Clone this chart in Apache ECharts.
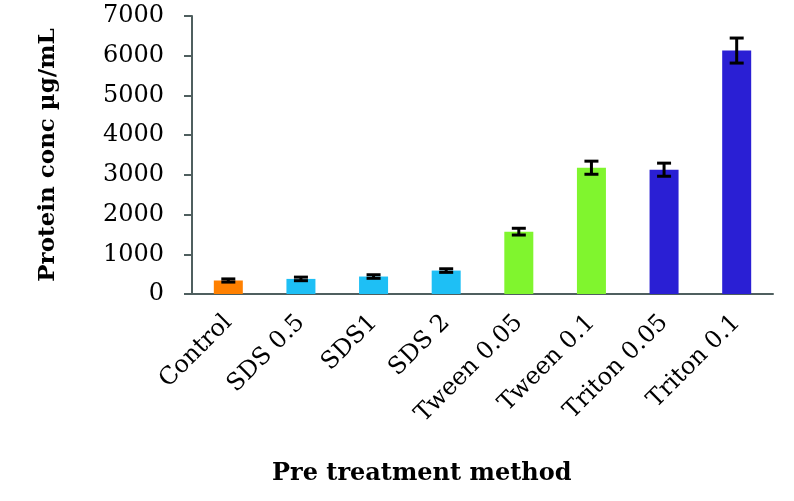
<!DOCTYPE html>
<html>
<head>
<meta charset="utf-8">
<script src="https://cdn.jsdelivr.net/npm/echarts@6/dist/echarts.min.js"></script>
<style>
  html, body { margin: 0; padding: 0; background: #fff; }
  #chart { width: 794px; height: 501px; }
</style>
</head>
<body>
<div id="chart"></div>
<script>
// 数据
const categories = ['Control', 'SDS 0.5', 'SDS1', 'SDS 2', 'Tween 0.05', 'Tween 0.1', 'Triton 0.05', 'Triton 0.1']
const values = [340, 380, 440, 590, 1570, 3180, 3130, 6130]
const errors = [40, 45, 45, 45, 85, 165, 165, 315]
const barColors = ['#ff8000', '#1ebff5', '#1ebff5', '#1ebff5', '#80f52e', '#80f52e', '#2a1fd4', '#2a1fd4']
const yTicks = [0, 1000, 2000, 3000, 4000, 5000, 6000, 7000]

const serif = 'DejaVu Serif'
const axisColor = '#4f5f5f'

const chart = echarts.init(document.getElementById('chart'))

chart.setOption({
  animation: false,
  grid: { left: 192, right: 21, top: 16, bottom: 207 },
  graphic: [{
    type: 'text',
    left: 272,
    top: 462,
    style: {
      text: 'Pre treatment method',
      font: 'bold 24px "DejaVu Serif"',
      fill: '#000'
    }
  }],
  xAxis: {
    type: 'category',
    data: categories,
    axisLine: { lineStyle: { color: axisColor, width: 2 } },
    axisTick: { alignWithLabel: false, length: 8, lineStyle: { color: axisColor, width: 2 } },
    axisLabel: {
      rotate: 45,
      margin: 25,
      color: '#000',
      fontFamily: serif,
      fontSize: 24
    }
  },
  yAxis: {
    type: 'value',
    min: yTicks[0],
    max: yTicks[yTicks.length - 1],
    interval: 1000,
    name: 'Protein conc µg/mL',
    nameLocation: 'middle',
    nameRotate: 90,
    nameGap: 132,
    nameTextStyle: { fontFamily: serif, fontWeight: 'bold', fontSize: 23, color: '#000' },
    splitLine: { show: false },
    axisLine: { show: true, lineStyle: { color: axisColor, width: 2 } },
    axisTick: { show: true, length: 8, lineStyle: { color: axisColor, width: 2 } },
    axisLabel: {
      color: '#000',
      fontFamily: serif,
      fontSize: 24,
      margin: 28,
      formatter: v => String(v)
    }
  },
  series: [
    {
      type: 'bar',
      barWidth: 29,
      data: values.map((v, i) => ({ value: v, itemStyle: { color: barColors[i] } }))
    },
    {
      type: 'custom',
      data: values.map((v, i) => [i, v - errors[i], v + errors[i]]),
      renderItem: function (params, api) {
        const lo = api.coord([api.value(0), api.value(1)])
        const hi = api.coord([api.value(0), api.value(2)])
        const x = lo[0]
        const hw = 7
        const style = { stroke: '#000', lineWidth: 3 }
        return {
          type: 'group',
          children: [
            { type: 'line', shape: { x1: x, y1: lo[1], x2: x, y2: hi[1] }, style: style },
            { type: 'line', shape: { x1: x - hw, y1: lo[1], x2: x + hw, y2: lo[1] }, style: style },
            { type: 'line', shape: { x1: x - hw, y1: hi[1], x2: x + hw, y2: hi[1] }, style: style }
          ]
        }
      },
      z: 5
    }
  ]
})
</script>
</body>
</html>
